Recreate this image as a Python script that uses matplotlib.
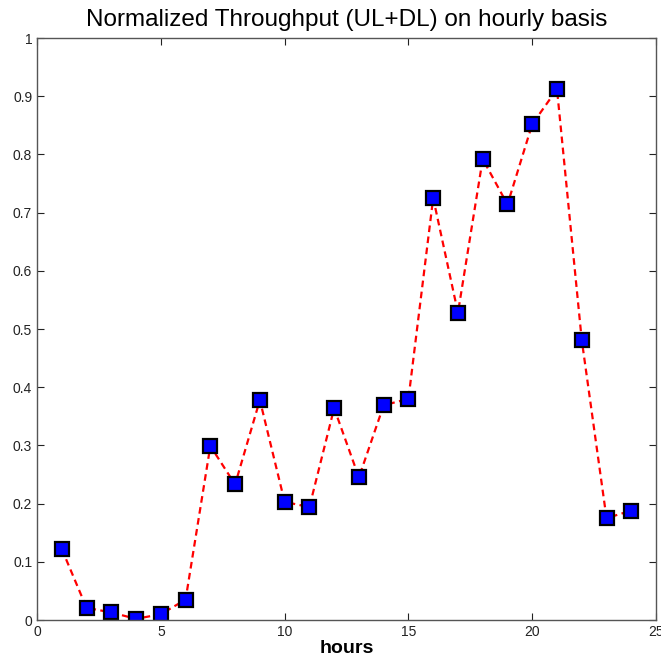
import matplotlib
matplotlib.use("Agg")
import matplotlib.pyplot as plt

hours = list(range(1, 25))
throughput = [0.122, 0.021, 0.013, 0.002, 0.010, 0.035, 0.299, 0.233,
              0.378, 0.203, 0.194, 0.364, 0.245, 0.369, 0.380, 0.725,
              0.528, 0.792, 0.714, 0.852, 0.912, 0.481, 0.175, 0.188]
xticks = [0, 5, 10, 15, 20, 25]
yticks = [0, 0.1, 0.2, 0.3, 0.4, 0.5, 0.6, 0.7, 0.8, 0.9, 1]
ytick_labels = ["0", "0.1", "0.2", "0.3", "0.4", "0.5", "0.6", "0.7", "0.8", "0.9", "1"]

plt.rcParams["font.family"] = ["Liberation Sans", "DejaVu Sans"]

fig = plt.figure(figsize=(6.61, 6.61), dpi=100)
ax = fig.add_axes([0.056, 0.062, 0.9365, 0.8805])

ax.plot(hours, throughput, "--", color="red", lw=1.6, dashes=(3, 2),
        marker="s", markersize=9.5, markerfacecolor="#0000ff",
        markeredgecolor="black", markeredgewidth=1.6)

ax.set_xlim(0, 25)
ax.set_ylim(0, 1)
ax.set_xticks(xticks)
ax.set_yticks(yticks)
ax.set_yticklabels(ytick_labels)
ax.tick_params(direction="in", top=True, right=True, labelsize=10,
               length=5, width=0.8, colors="#222222")
for s in ax.spines.values():
    s.set_color("#555555")
    s.set_linewidth(1.0)

ax.set_title("Normalized Throughput (UL+DL) on hourly basis", fontsize=17.5, pad=9)
ax.set_xlabel("hours", fontsize=14, fontweight="bold", labelpad=1)

fig.savefig("out.png", dpi=100)
